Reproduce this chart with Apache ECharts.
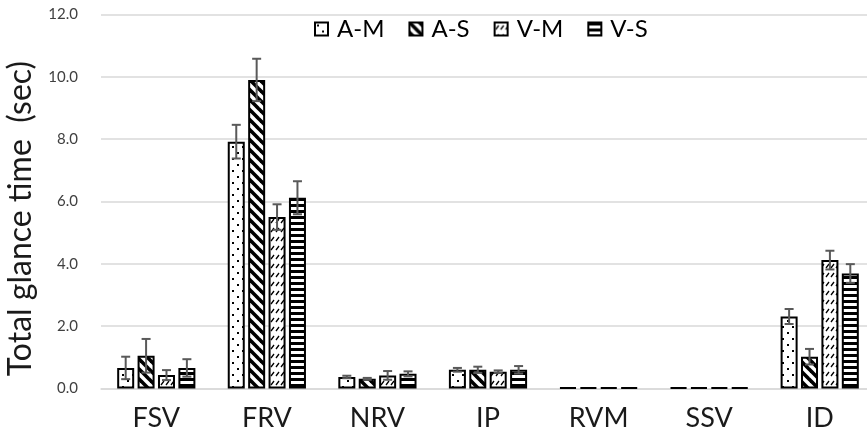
<!DOCTYPE html>
<html>
<head>
<meta charset="utf-8">
<script src="https://cdn.jsdelivr.net/npm/echarts@6/dist/echarts.min.js"></script>
<style>
  html, body { margin: 0; padding: 0; background: #fff; }
  #chart { width: 867px; height: 443px; }
</style>
</head>
<body>
<div id="chart"></div>
<script>
// Glance categories and conditions
const categories = ['FSV', 'FRV', 'NRV', 'IP', 'RVM', 'SSV', 'ID'];
const seriesNames = ['A-M', 'A-S', 'V-M', 'V-S'];

// Mean total glance time (sec) and error (±) per condition
const amMean = [0.66, 7.92, 0.37, 0.60, 0.03, 0.03, 2.31];
const amErr  = [0.36, 0.54, 0.04, 0.06, 0.00, 0.00, 0.24];
const asMean = [1.05, 9.90, 0.31, 0.60, 0.03, 0.03, 1.02];
const asErr  = [0.54, 0.68, 0.03, 0.10, 0.00, 0.00, 0.25];
const vmMean = [0.43, 5.50, 0.42, 0.54, 0.03, 0.03, 4.12];
const vmErr  = [0.16, 0.41, 0.14, 0.04, 0.00, 0.00, 0.30];
const vsMean = [0.66, 6.12, 0.47, 0.60, 0.03, 0.03, 3.69];
const vsErr  = [0.28, 0.53, 0.08, 0.12, 0.00, 0.00, 0.30];

// Value axis range
const yMin = 0, yMax = 12, yStep = 2;

const means = [amMean, asMean, vmMean, vsMean];
const errs = [amErr, asErr, vmErr, vsErr];

// ---- fill patterns ----
function tile(w, h, draw) {
  const c = document.createElement('canvas');
  c.width = w; c.height = h;
  const ctx = c.getContext('2d');
  ctx.fillStyle = '#fff';
  ctx.fillRect(0, 0, w, h);
  ctx.fillStyle = '#000';
  ctx.strokeStyle = '#000';
  draw(ctx);
  return c;
}
const dotTile = tile(10, 12, ctx => {
  ctx.fillRect(2, 2, 2, 2);
  ctx.fillRect(7, 8, 2, 2);
});
const diagTile = tile(10, 10, ctx => {
  ctx.lineWidth = 3.6;
  for (let k = -10; k <= 10; k += 10) {
    ctx.beginPath();
    ctx.moveTo(k - 3, -3);
    ctx.lineTo(k + 13, 13);
    ctx.stroke();
  }
});
const dashTile = tile(10, 9, ctx => {
  ctx.lineWidth = 1.3;
  ctx.beginPath();
  ctx.moveTo(1, 7); ctx.lineTo(4, 3);
  ctx.moveTo(6, 7); ctx.lineTo(9, 3);
  ctx.stroke();
});
const stripeTile = tile(6, 6, ctx => {
  ctx.fillRect(0, 0, 6, 3);
});
const fills = [dotTile, diagTile, dashTile, stripeTile].map(img => ({ image: img, repeat: 'repeat' }));

const barW = 17;
const gapRatio = 0.2;
const FONT = 'Lato, "Open Sans", sans-serif';

const barSeries = seriesNames.map((name, i) => ({
  name: name,
  type: 'bar',
  barWidth: barW,
  barGap: (gapRatio * 100) + '%',
  itemStyle: { color: fills[i], borderColor: '#000', borderWidth: 2 },
  data: means[i],
  z: 2
}));

const errSeries = seriesNames.map((name, i) => ({
  name: name + ' err',
  type: 'custom',
  z: 5,
  silent: true,
  data: categories.map((c, j) => [j, means[i][j], errs[i][j]]),
  encode: { x: 0, y: 1 },
  renderItem: (params, api) => {
    const idx = api.value(0);
    const m = api.value(1);
    const e = api.value(2);
    if (!e) return null;
    const off = (i - 1.5) * barW * (1 + gapRatio);
    const hi = api.coord([idx, m + e]);
    const lo = api.coord([idx, m - e]);
    const x = hi[0] + off;
    const cap = 4.5;
    const style = { stroke: '#595959', lineWidth: 2 };
    return {
      type: 'group',
      children: [
        { type: 'line', shape: { x1: x, y1: hi[1], x2: x, y2: lo[1] }, style },
        { type: 'line', shape: { x1: x - cap, y1: hi[1], x2: x + cap, y2: hi[1] }, style },
        { type: 'line', shape: { x1: x - cap, y1: lo[1], x2: x + cap, y2: lo[1] }, style }
      ]
    };
  }
}));

const chart = echarts.init(document.getElementById('chart'), null, { renderer: 'canvas' });
chart.setOption({
  animation: false,
  backgroundColor: '#fff',
  grid: { left: 101, width: 774, top: 14.5, bottom: 54.5, containLabel: false, outerBoundsMode: 'none' },
  legend: {
    data: seriesNames,
    left: 309,
    top: 12,
    itemWidth: 13,
    itemHeight: 13,
    itemGap: 24,
    icon: 'rect',
    itemStyle: { borderColor: '#000', borderWidth: 2 },
    textStyle: { fontFamily: FONT, fontSize: 24, color: '#000', padding: [0, 0, 0, 4] }
  },
  xAxis: {
    type: 'category',
    data: categories,
    axisLine: { show: true, lineStyle: { color: '#d9d9d9', width: 1.5 } },
    axisTick: { show: false },
    axisLabel: { fontFamily: FONT, fontSize: 27, color: '#1a1a1a', margin: 16 }
  },
  yAxis: {
    type: 'value',
    min: yMin,
    max: yMax,
    interval: yStep,
    name: 'Total glance time  (sec)',
    nameLocation: 'middle',
    nameGap: 64,
    nameTextStyle: { fontFamily: FONT, fontSize: 32, color: '#1a1a1a', padding: [0, 34, 0, 0] },
    axisLine: { show: false },
    axisTick: { show: false },
    axisLabel: { fontFamily: FONT, fontSize: 15, color: '#404040', margin: 23, formatter: v => v.toFixed(1) },
    splitLine: { lineStyle: { color: '#d9d9d9', width: 1.5 } }
  },
  series: [...barSeries, ...errSeries]
});
</script>
</body>
</html>
